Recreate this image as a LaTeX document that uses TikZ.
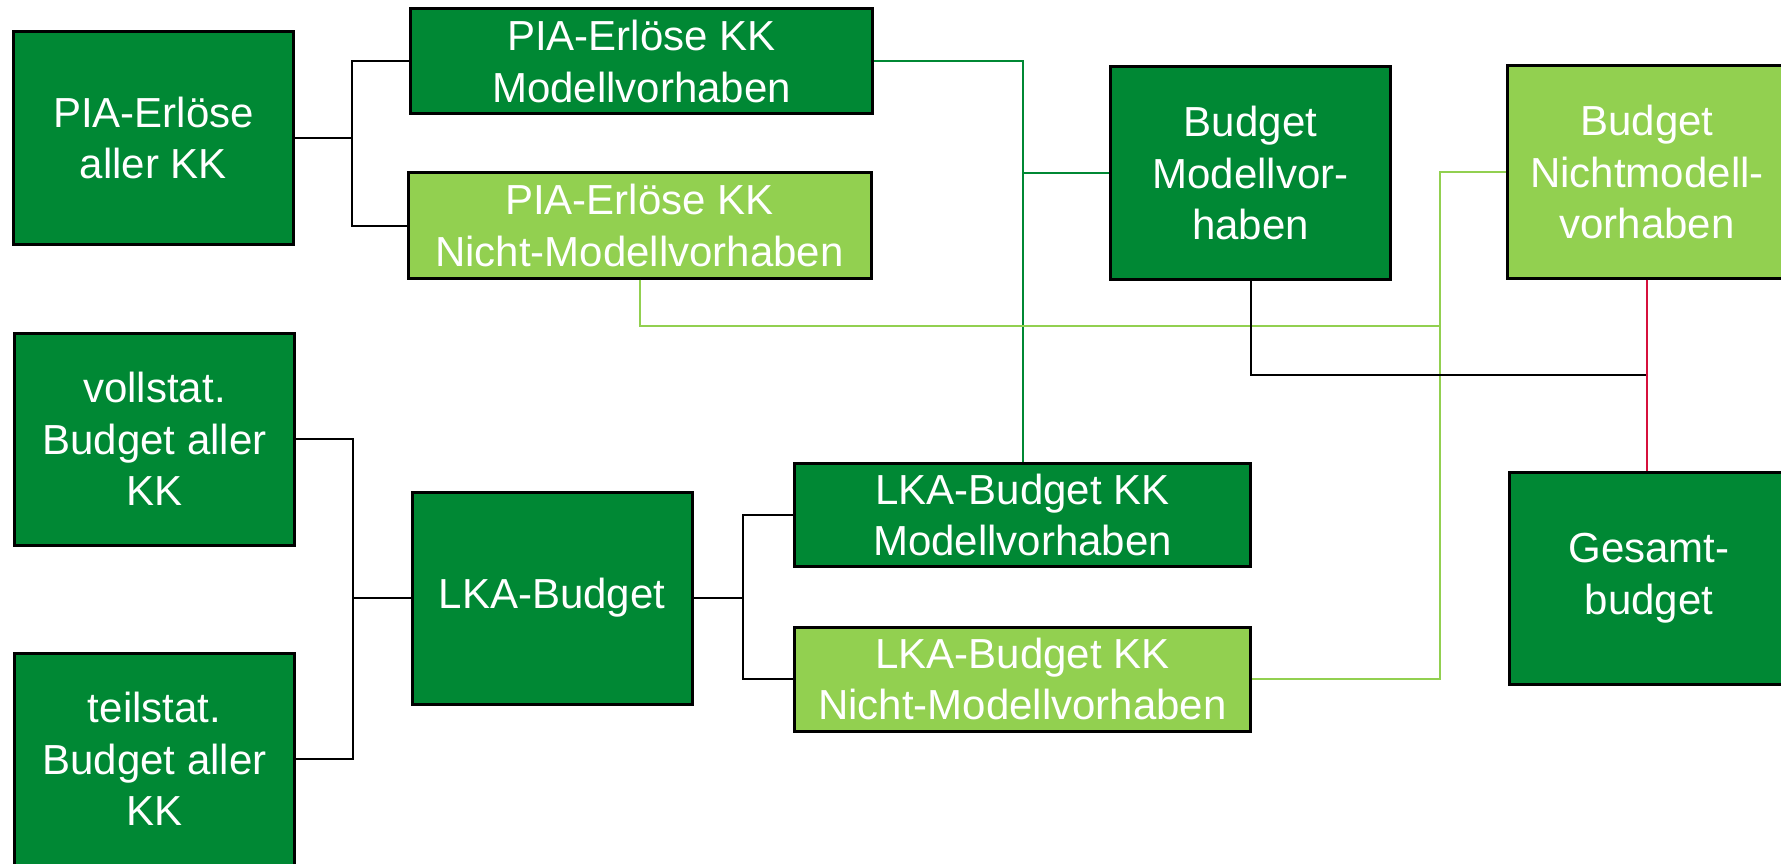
\documentclass[tikz,border=0pt]{standalone}
\usepackage{fontspec}
\setmainfont{Liberation Sans}
\definecolor{dkgreen}{RGB}{0,136,52}
\definecolor{ltgreen}{RGB}{146,208,80}
\definecolor{linkred}{RGB}{214,16,60}
\begin{document}
\begin{tikzpicture}[x=1pt,y=-1pt,
  box/.style={draw=black,line width=3pt,text=white,align=center,inner sep=0pt,
    font=\fontsize{42}{51.5}\selectfont},
  dk/.style={box,fill=dkgreen},
  lt/.style={box,fill=ltgreen},
  blk/.style={draw=black,line width=2pt},
  dgl/.style={draw=dkgreen,line width=2pt},
  lgl/.style={draw=ltgreen,line width=2pt},
  rdl/.style={draw=linkred,line width=2.5pt}]
\useasboundingbox (0,0) rectangle (1781,864);
\begin{scope}
\clip (0,0) rectangle (1781,864);
% boxes
\node[dk,minimum width=280,minimum height=212] (A) at (153.5,138) {PIA-Erlöse\\aller KK};
\node[dk,minimum width=462,minimum height=105] (B) at (641.5,61.5) {PIA-Erlöse KK\\Modellvorhaben};
\node[lt,minimum width=463,minimum height=105] (C) at (639.5,225.5) {PIA-Erlöse KK\\Nicht-Modellvorhaben};
\node[dk,minimum width=280,minimum height=212] (D) at (1250.5,173) {Budget\\Modellvor-\\haben};
\node[lt,minimum width=280,minimum height=212] (E) at (1647,172) {Budget\\Nichtmodell-\\vorhaben};
\node[dk,minimum width=280,minimum height=212] (F) at (154.5,439) {vollstat.\\Budget aller\\KK};
\node[dk,minimum width=280,minimum height=212] (G) at (154.5,759) {teilstat.\\Budget aller\\KK};
\node[dk,minimum width=280,minimum height=212] (H) at (552,598) {LKA-Budget};
\node[dk,minimum width=456,minimum height=103] (I) at (1022.5,515) {LKA-Budget KK\\Modellvorhaben};
\node[lt,minimum width=456,minimum height=104] (J) at (1022.5,679) {LKA-Budget KK\\Nicht-Modellvorhaben};
\node[dk,minimum width=280,minimum height=212] (K) at (1649,578) {Gesamt-\\budget};
\end{scope}
% coordinates
\coordinate (a1) at (352,0);
\coordinate (f1) at (353,0);
\coordinate (h1) at (743,0);
\coordinate (g1) at (1023,0);
\coordinate (c1) at (0,326);
\coordinate (l1) at (1440,0);
\coordinate (d1) at (0,375);
\coordinate (k1) at (1647,0);
% black connectors
\draw[blk] (A.east) -- (A.east -| a1) |- (B.west);
\draw[blk] (A.east -| a1) |- (C.west);
\draw[blk] (F.east) -- (F.east -| f1) |- (G.east);
\draw[blk] (H.west) -- (H.west -| f1);
\draw[blk] (H.east) -- (H.east -| h1) |- (I.west);
\draw[blk] (H.east -| h1) |- (J.west);
% dark green
\draw[dgl] (B.east) -- (B.east -| g1) -- (I.north -| g1);
\draw[dgl] (D.west -| g1) -- (D.west);
% light green
\draw[lgl] (C.south) -- (C.south |- c1) -- (c1 -| l1);
\draw[lgl] (J.east) -- (J.east -| l1) -- (E.west -| l1) -- (E.west);
% black from D
\draw[blk] (D.south) -- (D.south |- d1) -- (d1 -| k1);
% red
\draw[rdl] (E.south -| k1) -- (K.north -| k1);
\end{tikzpicture}
\end{document}
